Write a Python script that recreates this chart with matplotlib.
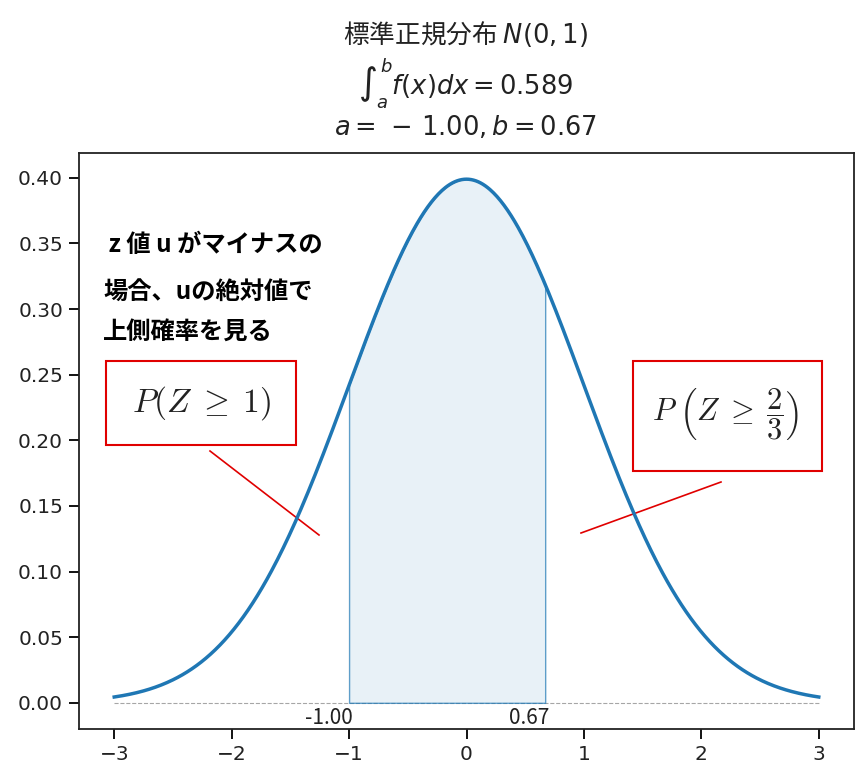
import numpy as np
import matplotlib.pyplot as plt
from matplotlib.patches import Rectangle

plt.rcParams['font.family'] = ['DejaVu Sans', 'Noto Sans CJK JP']

# data
a = -1.00
b = 0.67
area = 0.589
x = np.linspace(-3, 3, 601)
pdf = np.exp(-x ** 2 / 2) / np.sqrt(2 * np.pi)
note_lines = [" z 値 u がマイナスの", "場合、uの絶対値で", "上側確率を見る"]
box_left = r"$P(Z \;\geq\; 1)$"
box_right = r"$P\;\left(Z \;\geq\; \dfrac{2}{3}\right)$"

W, H = 867, 780
fig = plt.figure(figsize=(W / 100, H / 100), dpi=100)
ax = fig.add_axes([79 / W, 1 - 729 / H, 775 / W, 576 / H])

def px(x0, y0):
    # pixel position in the picture -> figure fraction
    return x0 / W, 1 - y0 / H

ax.plot(x, pdf, color='#1f77b4', lw=2.5, zorder=3)
m = (x >= a) & (x <= b)
ax.fill_between(x[m], pdf[m], facecolor=(0.12, 0.47, 0.71, 0.1),
                edgecolor=(0.12, 0.47, 0.71, 0.7), lw=1.0, zorder=2)
ax.plot([x[0], x[-1]], [0, 0], ls='--', color='gray', lw=0.8, alpha=0.7, zorder=1)
for v in (a, b):
    ax.annotate(f"{v:.2f}", (v, 0), xytext=(4, -4), textcoords='offset pixels',
                ha='right', va='top', fontsize=15, color='#222222',
                family=['Noto Sans CJK JP', 'DejaVu Sans'])

ax.set_yticks(np.arange(0, 0.41, 0.05))
ax.tick_params(labelsize=14.5, length=7, width=1.3, pad=4.5, labelcolor='#222222')
for s in ax.spines.values():
    s.set_linewidth(1.3)
    s.set_color('#222222')

cx = 466 / W
fig.text(cx, 0.957, "標準正規分布 $N(0,1)$", ha='center', va='center', fontsize=18.5,
         family=['Noto Sans CJK JP', 'DejaVu Sans'], color='#222222')
fig.text(cx, 0.893, rf"$\int_a^b f(x)dx = {area}$", ha='center', va='center',
         fontsize=18.5, color='#222222')
fig.text(cx, 0.837, f"$a =\\,-\\,{abs(a):.2f}, b = {b:.2f}$", ha='center', va='center',
         fontsize=18.5, color='#222222')

for t, yy in zip(note_lines, [245, 292, 332]):
    fig.text(*px(103, yy), t, fontsize=17.5, fontweight='bold', va='center', ha='left',
             family=['Noto Sans CJK JP', 'DejaVu Sans'])

ax.add_patch(Rectangle(px(106, 445), 190 / W, 84 / H, transform=fig.transFigure,
                       fill=False, edgecolor='#e00000', lw=1.5, zorder=5))
ax.add_patch(Rectangle(px(633, 471), 189 / W, 110 / H, transform=fig.transFigure,
                       fill=False, edgecolor='#e00000', lw=1.5, zorder=5))
fig.text(*px(202, 403), box_left, ha='center', va='center',
         fontsize=24, math_fontfamily='cm', color='#222222')
fig.text(*px(726, 415), box_right, ha='center', va='center',
         fontsize=22, math_fontfamily='cm', color='#222222')
ax.plot(*zip(px(210, 451), px(319, 535)), transform=fig.transFigure, color='#e00000', lw=1.2)
ax.plot(*zip(px(581, 533), px(721, 482)), transform=fig.transFigure, color='#e00000', lw=1.2)

fig.savefig('out.png', dpi=100)
